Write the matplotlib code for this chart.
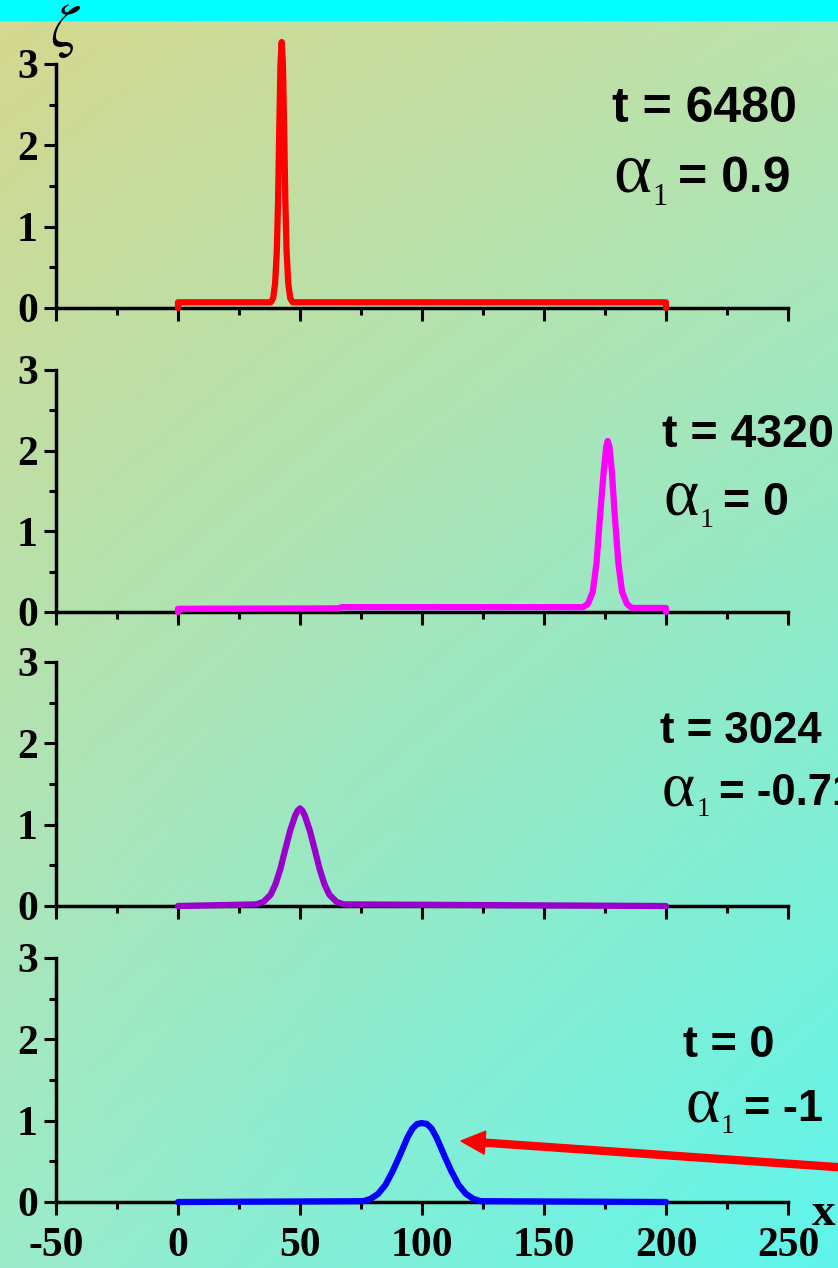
import numpy as np
import matplotlib.pyplot as plt
from matplotlib.patches import Rectangle, FancyArrow
from matplotlib.transforms import IdentityTransform
from matplotlib.ticker import MultipleLocator

# Profiles (x, zeta)
x_red = [0, 0, 38, 39, 39.8, 40.5, 41.0, 41.5, 42.0, 42.5, 43.0, 43.5, 44.0, 44.5, 45.2, 46, 47, 200, 200]
y_red = [0, 0.07, 0.07, 0.12, 0.3, 0.7, 1.3, 2.2, 3.0, 3.27, 3.0, 2.2, 1.3, 0.7, 0.3, 0.12, 0.07, 0.07, 0]

x_mag = [0, 0, 66, 67, 166, 168, 170, 171.5, 173, 174.5, 175.5, 176.1, 176.8, 177.8, 179, 180.5, 182, 184,
         186, 200, 200]
y_mag = [0, 0.04, 0.045, 0.06, 0.06, 0.1, 0.25, 0.6, 1.2, 1.75, 2.05, 2.12, 2.05, 1.75, 1.2, 0.6, 0.25, 0.1,
         0.05, 0.05, 0]

x_pur = [0, 32, 35, 38, 40, 42, 44, 46, 48, 49, 50, 51, 52, 54, 56, 58, 60, 62, 65, 68, 200]
y_pur = [0, 0.02, 0.05, 0.14, 0.27, 0.46, 0.7, 0.93, 1.11, 1.17, 1.2, 1.17, 1.11, 0.93, 0.7, 0.46, 0.27,
         0.14, 0.05, 0.02, 0]

x_blu = [0, 76, 79, 82, 85, 88, 91, 94, 96, 98, 100, 102, 104, 106, 109, 112, 115, 118, 121, 124, 200]
y_blu = [0, 0.01, 0.04, 0.1, 0.21, 0.38, 0.58, 0.79, 0.9, 0.96, 0.97, 0.96, 0.9, 0.79, 0.58, 0.38, 0.21,
         0.1, 0.04, 0.01, 0]

t_labels = ['t = 6480', 't = 4320', 't = 3024', 't = 0']
alpha_values = ['= 0.9', '= 0', '= -0.71', '= -1']
colors = ['#ff0000', '#ff00ff', '#9900cc', '#0000ff']
x_ticks = [-50, 0, 50, 100, 150, 200, 250]
y_ticks = [0, 1, 2, 3]

W, H = 838, 1268


def fx(px):
    return px / W


def fy(py):
    return 1 - py / H


def main():
    plt.rcParams['axes.unicode_minus'] = False
    fig = plt.figure(figsize=(W / 100, H / 100), dpi=100)

    # background gradient
    bg = fig.add_axes([0, 0, 1, 1], zorder=-10)
    tl = np.array([213, 215, 142]) / 255
    tr = np.array([188, 226, 172]) / 255
    bl = np.array([155, 235, 202]) / 255
    br = np.array([94, 245, 236]) / 255
    u = np.linspace(0, 1, 200)[None, :, None]
    v = np.linspace(0, 1, 300)[:, None, None]
    img = (1 - v) * ((1 - u) * tl + u * tr) + v * ((1 - u) * bl + u * br)
    bg.imshow(img, extent=[0, 1, 0, 1], aspect='auto', origin='upper')
    bg.axis('off')
    fig.patches.append(Rectangle((0, fy(20)), 1, 20 / H, transform=fig.transFigure,
                                 color='#00ffff', zorder=-5))

    # panel positions in pixels: (y of 3, y of 0)
    panels = [(64, 308), (370, 612), (662, 906), (958, 1202)]
    data = [(x_red, y_red), (x_mag, y_mag), (x_pur, y_pur), (x_blu, y_blu)]

    serif = 'Liberation Serif'
    sans = 'Liberation Sans'
    for i, (top, bot) in enumerate(panels):
        ax = fig.add_axes([fx(56), fy(bot), (788 - 56) / W, (bot - top) / H])
        ax.patch.set_alpha(0)
        xs, ys = data[i]
        ax.plot(xs, ys, color=colors[i], lw=4.5, clip_on=False, solid_capstyle='round',
                solid_joinstyle='round', zorder=5)
        ax.set_xlim(-50, 250)
        ax.set_ylim(0, 3)
        for s in ['top', 'right']:
            ax.spines[s].set_visible(False)
        for s in ['left', 'bottom']:
            ax.spines[s].set_linewidth(2.5)
        ax.set_xticks(x_ticks)
        ax.xaxis.set_minor_locator(MultipleLocator(25))
        ax.set_yticks(y_ticks)
        ax.yaxis.set_minor_locator(MultipleLocator(0.5))
        ax.tick_params(which='major', direction='out', length=9, width=2.2)
        ax.tick_params(which='minor', direction='out', length=5, width=2.2)
        ax.tick_params(axis='y', labelsize=30, pad=4)
        ax.tick_params(axis='x', labelsize=30, pad=9)
        for lab in ax.get_xticklabels() + ax.get_yticklabels():
            lab.set_fontfamily(serif)
            lab.set_fontweight('bold')
        if i < 3:
            ax.tick_params(axis='x', labelbottom=False)

    # annotations: (x of t, baseline of t, x of alpha, baseline of alpha, size)
    spots = [(612, 122, 613, 192, 36), (662, 447, 663, 515, 33.5),
             (660, 743, 662, 805, 31.5), (683, 1057, 685, 1121, 32.5)]
    for i, (tx, ty, ax_, ay, fs) in enumerate(spots):
        k = fs / 36
        fig.text(fx(tx), fy(ty), t_labels[i], fontfamily=sans, fontweight='bold',
                 fontsize=fs, va='baseline')
        fig.text(fx(ax_), fy(ay), 'α', fontfamily=serif, fontsize=52 * k, va='baseline')
        fig.text(fx(ax_ + 39 * k), fy(ay + 13 * k), '1', fontfamily=serif,
                 fontsize=22 * k, va='baseline')
        fig.text(fx(ax_ + 65 * k), fy(ay), alpha_values[i], fontfamily=sans,
                 fontweight='bold', fontsize=fs, va='baseline')

    fig.text(fx(66), fy(31), r'$\zeta$', fontsize=44, ha='center', va='center',
             math_fontfamily='stix')
    fig.text(fx(812), fy(1225), 'x', fontfamily=serif, fontweight='bold',
             fontsize=34, va='baseline')

    # red arrow pointing at the initial pulse
    x0, y0 = 850, H - 1168
    x1, y1 = 461, H - 1141
    fig.add_artist(FancyArrow(x0, y0, x1 - x0, y1 - y0, width=7, head_width=23,
                              head_length=24, length_includes_head=True,
                              color='#ff0000', transform=IdentityTransform(), zorder=10))

    fig.savefig('out.png', dpi=100)


if __name__ == "__main__":
    main()
